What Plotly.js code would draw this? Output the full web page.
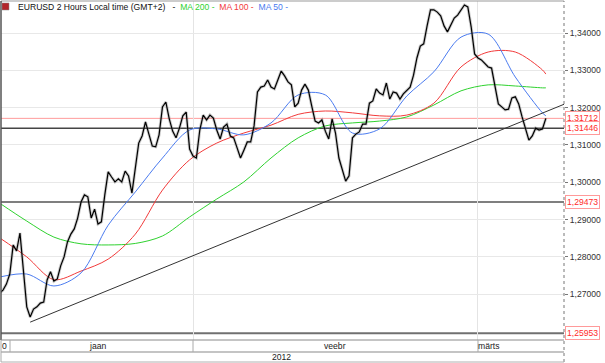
<!DOCTYPE html>
<html><head><meta charset="utf-8">
<script src="https://cdn.plot.ly/plotly-3.0.1.min.js"></script>
<style>html,body{margin:0;padding:0;background:#fff}#chart{width:605px;height:363px}</style>
</head><body><div id="chart"></div>
<script>
// Time axis: trading days relative to 1 Feb 2012, one close every 6 hours
const startDay = -14.25;
const stepDays = 0.25;
const closes = [
1.2703,1.2711,1.2727,1.2754,1.2832,1.2816,1.2864,1.2760,1.2666,1.2639,
1.2660,1.2666,1.2676,1.2679,1.2738,1.2760,1.2735,1.2741,1.2776,1.2800,
1.2840,1.2861,1.2875,1.2904,1.2947,1.2966,1.2961,1.2904,1.2928,1.2888,
1.2894,1.2966,1.3028,1.3014,1.3001,1.3009,1.3001,1.3030,1.3017,1.2971,
1.3041,1.3105,1.3124,1.3162,1.3129,1.3097,1.3095,1.3127,1.3202,1.3215,
1.3170,1.3137,1.3119,1.3145,1.3178,1.3188,1.3089,1.3070,1.3065,1.3140,
1.3180,1.3167,1.3180,1.3172,1.3140,1.3116,1.3148,1.3156,1.3124,1.3119,
1.3092,1.3065,1.3086,1.3108,1.3108,1.3151,1.3242,1.3255,1.3258,1.3274,
1.3255,1.3250,1.3274,1.3298,1.3285,1.3269,1.3261,1.3202,1.3212,1.3247,
1.3263,1.3247,1.3204,1.3164,1.3159,1.3167,1.3137,1.3116,1.3170,1.3132,
1.3065,1.3036,1.3003,1.3017,1.3119,1.3129,1.3135,1.3156,1.3156,1.3212,
1.3218,1.3250,1.3239,1.3234,1.3266,1.3223,1.3242,1.3239,1.3223,1.3237,
1.3247,1.3255,1.3287,1.3333,1.3365,1.3371,1.3419,1.3462,1.3462,1.3456,
1.3446,1.3419,1.3403,1.3421,1.3440,1.3448,1.3462,1.3475,1.3470,1.3416,
1.3344,1.3333,1.3328,1.3317,1.3309,1.3306,1.3261,1.3210,1.3202,1.3194,
1.3196,1.3226,1.3229,1.3210,1.3175,1.3140,1.3113,1.3124,1.3145,1.3140,
1.3143,1.31712];
// Moving averages, read at every 8th close sample (plus the last one)
const maIndex = [0,8,16,24,32,40,48,56,64,72,80,88,96,104,112,120,128,136,144,152,160,161];
const ma200 = [1.2944,1.2896,1.2853,1.2835,1.2832,1.2836,1.2856,1.2907,1.2955,1.3001,1.3065,
               1.3119,1.3151,1.3159,1.3164,1.3175,1.3207,1.3245,1.3261,1.3258,1.3253,1.3253];
const ma100 = [1.2851,1.2800,1.2739,1.2762,1.2794,1.2861,1.2979,1.3060,1.3105,1.3132,1.3153,
               1.3182,1.3191,1.3186,1.3178,1.3180,1.3212,1.3309,1.3349,1.3349,1.3301,1.3290];
const ma50  = [1.2746,1.2754,1.2722,1.2757,1.2885,1.2974,1.3065,1.3140,1.3143,1.3127,1.3159,
               1.3234,1.3234,1.3132,1.3143,1.3231,1.3296,1.3389,1.3397,1.3282,1.3186,1.3178];
const trendDays = [-12.0, 27.34];
const trendPrices = [1.2625, 1.3209];
const levels = [1.31712, 1.31446, 1.29473, 1.25953];
const levelLabels = ['1,31712','1,31446','1,29473','1,25953'];
const priceTicks = [1.27, 1.28, 1.29, 1.30, 1.31, 1.32, 1.33, 1.34];
const monthStartDays = [0, 21];
const monthLabels = ['jaan','veebr','märts'];
const monthLabelDays = [-7.07, 10.46, 21.81];
const yearLabel = '2012';
const titleMain = 'EURUSD 2 Hours Local time (GMT+2)';
const maNames = ['MA 200', 'MA 100', 'MA 50'];

const days = closes.map((_, i) => startDay + stepDays * i);
const maDays = maIndex.map(i => startDay + stepDays * i);

const FONT = 'Liberation Sans, Arial, sans-serif';
const W = 605, H = 363, ML = 1, MR = 41, MT = 1, MB = 23;
const PW = W - ML - MR, PH = H - MT - MB;
const px = v => (v - ML) / PW;          // page x -> paper
const py = v => (H - MB - v) / PH;      // page y -> paper

const maColors = ['#2fd22f', '#f23a3a', '#4a7bf0'];
const traces = [
  {x: maDays, y: ma200, type: 'scatter', mode: 'lines', line: {color: maColors[0], width: 1, shape: 'spline', smoothing: 0.9}},
  {x: maDays, y: ma100, type: 'scatter', mode: 'lines', line: {color: maColors[1], width: 1, shape: 'spline', smoothing: 0.9}},
  {x: maDays, y: ma50,  type: 'scatter', mode: 'lines', line: {color: maColors[2], width: 1, shape: 'spline', smoothing: 0.9}},
  {x: trendDays, y: trendPrices, type: 'scatter', mode: 'lines', line: {color: '#333', width: 1}},
  {x: days, y: closes, type: 'scatter', mode: 'lines', line: {color: 'rgba(110,110,110,0.35)', width: 3}},
  {x: days, y: closes, type: 'scatter', mode: 'lines', line: {color: '#000', width: 1.2}}
];

const levelStyles = [
  {color: '#ff9c9c', width: 1}, {color: '#444', width: 1.5},
  {color: '#555', width: 1.5}, {color: '#707070', width: 2}
];
const shapes = levels.map((lv, k) => ({
  type: 'line', xref: 'paper', x0: 0, x1: 1, yref: 'y', y0: lv, y1: lv, line: levelStyles[k], layer: 'below'
}));
// frame and time band
shapes.push({type:'line', xref:'paper', yref:'paper', x0:0, x1:1, y0:1, y1:1, line:{color:'#999', width:1}});
shapes.push({type:'line', xref:'paper', yref:'paper', x0:0, x1:0, y0:0, y1:1, line:{color:'#555', width:1.5}});
shapes.push({type:'line', xref:'paper', yref:'paper', x0:1, x1:1, y0:py(362), y1:1, line:{color:'#777', width:1, dash:'dot'}});
shapes.push({type:'line', xref:'paper', yref:'paper', x0:0, x1:1, y0:0, y1:0, line:{color:'#8a8a8a', width:1}});
shapes.push({type:'line', xref:'paper', yref:'paper', x0:0, x1:1, y0:py(352), y1:py(352), line:{color:'#b0b0b0', width:1.5}});
shapes.push({type:'line', xref:'paper', yref:'paper', x0:0, x1:1, y0:py(362), y1:py(362), line:{color:'#b0b0b0', width:1}});
shapes.push({type:'line', xref:'paper', yref:'paper', x0:0, x1:0, y0:py(362), y1:0, line:{color:'#aaa', width:1}});
shapes.push({type:'line', xref:'paper', yref:'paper', x0:px(10), x1:px(10), y0:py(352), y1:0, line:{color:'#aaa', width:1}});
monthStartDays.forEach(d => shapes.push({type:'line', xref:'x', yref:'paper', x0:d, x1:d, y0:py(352), y1:0, line:{color:'#aaa', width:1}}));
// small symbol icon
shapes.push({type:'rect', xref:'paper', yref:'paper', x0:px(2), x1:px(9), y0:py(10), y1:py(3), fillcolor:'#b3262b', line:{color:'#888', width:0.5}});

const annotations = levels.map((lv, k) => ({
  xref: 'paper', x: 1, xanchor: 'left', xshift: 1, yref: 'y', y: lv, yanchor: 'middle',
  text: levelLabels[k], showarrow: false, font: {family: FONT, size: 8.6, color: '#ff2a2a'},
  bgcolor: '#fff', bordercolor: '#ff9a9a', borderwidth: 1, borderpad: 1
}));
monthLabels.forEach((m, k) => annotations.push({
  xref: 'x', x: monthLabelDays[k], yref: 'paper', y: py(346), yanchor: 'middle', xanchor: 'center',
  text: m, showarrow: false, font: {family: FONT, size: 8.6, color: '#222'}
}));
annotations.push({xref:'paper', x: px(0), xanchor:'left', yref:'paper', y: py(346), yanchor:'middle', text:'0', showarrow:false, font:{family:FONT, size:8.6, color:'#222'}});
annotations.push({xref:'paper', x: px(281), xanchor:'center', yref:'paper', y: py(357), yanchor:'middle', text:yearLabel, showarrow:false, font:{family:FONT, size:8.6, color:'#222'}});
const sp = '&nbsp;';
annotations.push({
  xref:'paper', x: px(16), xanchor:'left', yref:'paper', y: py(7), yanchor:'middle', showarrow:false,
  font:{family:FONT, size:8.6, color:'#111'},
  text: titleMain + sp+sp+sp + '-' + sp+sp +
        maNames.map((n, k) => '<span style="color:' + maColors[k] + '">' + n + ' -</span>').join(sp+sp)
});

const layout = {
  width: W, height: H, margin: {l: ML, r: MR, t: MT, b: MB, pad: 0},
  paper_bgcolor: '#fff', plot_bgcolor: '#fff', showlegend: false,
  separators: ',.', font: {family: FONT, size: 8.6, color: '#333'},
  xaxis: {range: [-14.148, 27.338], tickvals: monthStartDays, showticklabels: false, ticks: '',
          showgrid: true, gridcolor: '#e4e4e4', gridwidth: 1, zeroline: false, showline: false},
  yaxis: {side: 'right', range: [1.257722, 1.348577], tickvals: priceTicks, tickformat: '.5f',
          ticks: 'outside', ticklen: 3, tickcolor: '#777', showgrid: true, gridcolor: '#e8e8e8',
          zeroline: false, showline: false, tickfont: {family: FONT, size: 8.6, color: '#333'}},
  shapes: shapes, annotations: annotations
};
Plotly.newPlot('chart', traces, layout, {staticPlot: true, displayModeBar: false});
</script></body></html>
